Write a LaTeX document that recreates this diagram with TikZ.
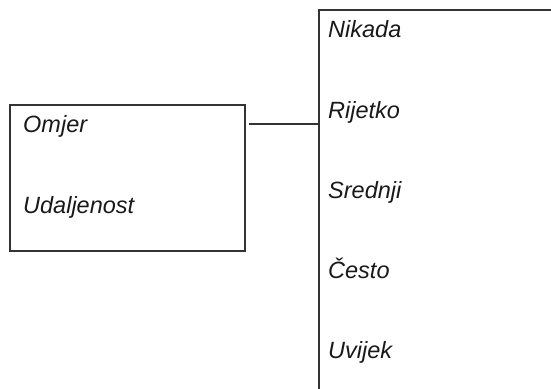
\documentclass[tikz,border=0pt]{standalone}
\usepackage{fontspec}
\setmainfont{Liberation Sans}
\begin{document}
\begin{tikzpicture}[x=1pt,y=-1pt,
  boxstyle/.style={draw=black!80,line width=1.1pt,rectangle,inner sep=0pt},
  lbl/.style={anchor=base west,inner sep=0pt,font=\fontsize{23.5}{26}\selectfont\itshape,text=black!90},
  conn/.style={draw=black!80,line width=1.1pt}]
\clip (0,0) rectangle (551,388);
\useasboundingbox (0,0) rectangle (551,388);
\node[boxstyle,minimum width=235pt,minimum height=146pt] (lbox) at (127.5,178) {};
\node[boxstyle,minimum width=300pt,minimum height=440pt] (rbox) at (469,230) {};
\node[lbl] (omjer) at (23,132) {Omjer};
\node[lbl] (udalj) at (23,213) {Udaljenost};
\node[lbl] (nikada) at (328,37) {Nikada};
\node[lbl] (rijetko) at (328,118) {Rijetko};
\node[lbl] (srednji) at (328,198) {Srednji};
\node[lbl] (cesto) at (328,278) {Često};
\node[lbl] (uvijek) at (328,358) {Uvijek};
\coordinate (c) at (282,124);
\draw[conn,shorten <=3pt] (lbox.east |- c) -- (rbox.west |- c);
\end{tikzpicture}
\end{document}
